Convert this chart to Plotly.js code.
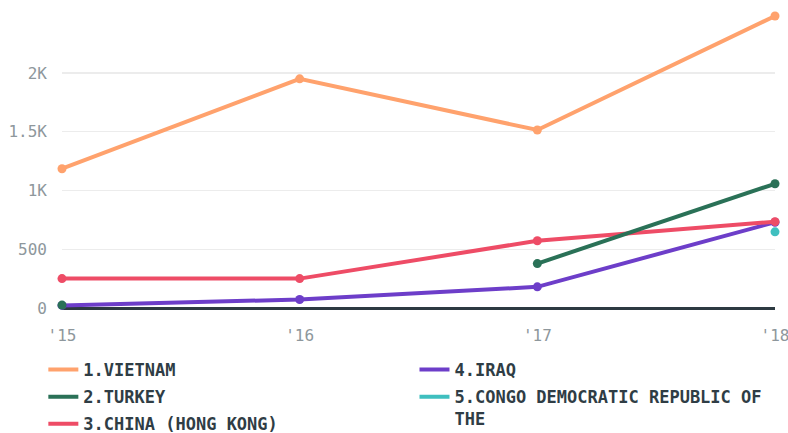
<!DOCTYPE html>
<html><head><meta charset="utf-8">
<script src="https://cdn.plot.ly/plotly-3.0.1.min.js"></script>
<style>html,body{margin:0;padding:0;background:#fff}#chart{width:788px;height:433px}</style>
</head><body><div id="chart"></div>
<script>
const years = ["'15", "'16", "'17", "'18"];
const names = ["1.VIETNAM", "2.TURKEY", "3.CHINA (HONG KONG)", "4.IRAQ", "5.CONGO DEMOCRATIC REPUBLIC OF<br>THE"];
const vietnam = [1185, 1950, 1515, 2485];
const turkey = [25, null, 378, 1057];
const china = [250, 250, 572, 735];
const iraq = [22, 72, 180, 730];
const congo = [null, null, null, 648];
const colors = ["#ffa26d", "#2a7157", "#ee4c66", "#6d3ec9", "#3fbfbf"];
const series = [vietnam, turkey, china, iraq, congo];
const legendOf = ["legend", "legend", "legend", "legend2", "legend2"];

// draw first series last so it sits on top
const traces = series.map((s, i) => ({
  x: years, y: s, name: names[i], type: 'scatter', mode: 'lines+markers',
  line: {color: colors[i], width: 4}, marker: {color: colors[i], size: 9},
  connectgaps: false, showlegend: false, hoverinfo: 'none', cliponaxis: false
})).reverse();
const legendTraces = series.map((s, i) => ({
  x: [null], y: [null], name: names[i], type: 'scatter', mode: 'lines',
  line: {color: colors[i], width: 4}, legend: legendOf[i], legendgroup: 'g' + i,
  showlegend: true, hoverinfo: 'none'
}));

const legFont = {family: 'DejaVu Sans Mono', size: 17, color: '#2f3d45', weight: 'bold'};
const layout = {
  width: 788, height: 433,
  margin: {l: 62, r: 13, t: 10, b: 125, autoexpand: false},
  paper_bgcolor: '#fff', plot_bgcolor: '#fff',
  showlegend: true,
  xaxis: {type: 'category', range: [0, 3], showgrid: false, zeroline: false, showline: false,
    ticks: '', ticklabelstandoff: 16, tickfont: {family: 'DejaVu Sans Mono', size: 16, color: '#8e979c'}},
  yaxis: {range: [0, 2536], tickvals: [0, 500, 1000, 1500, 2000], ticktext: ['0', '500', '1K', '1.5K', '2K'],
    showgrid: true, gridcolor: '#ececec', gridwidth: 1.5, zeroline: true, zerolinecolor: '#2d3a41', zerolinewidth: 3,
    showline: false, ticks: '', ticklabelstandoff: 14,
    tickfont: {family: 'DejaVu Sans Mono', size: 16, color: '#8e979c'}},
  legend: {xref: 'container', yref: 'container', x: 0.055, y: 0.187, xanchor: 'left', yanchor: 'top',
    orientation: 'v', font: legFont, itemwidth: 30, bgcolor: 'rgba(0,0,0,0)', valign: 'top', tracegroupgap: 2},
  legend2: {xref: 'container', yref: 'container', x: 0.526, y: 0.187, xanchor: 'left', yanchor: 'top',
    orientation: 'v', font: legFont, itemwidth: 30, bgcolor: 'rgba(0,0,0,0)', valign: 'top', tracegroupgap: 2}
};
Plotly.newPlot('chart', traces.concat(legendTraces), layout, {staticPlot: true, displayModeBar: false});
</script></body></html>
